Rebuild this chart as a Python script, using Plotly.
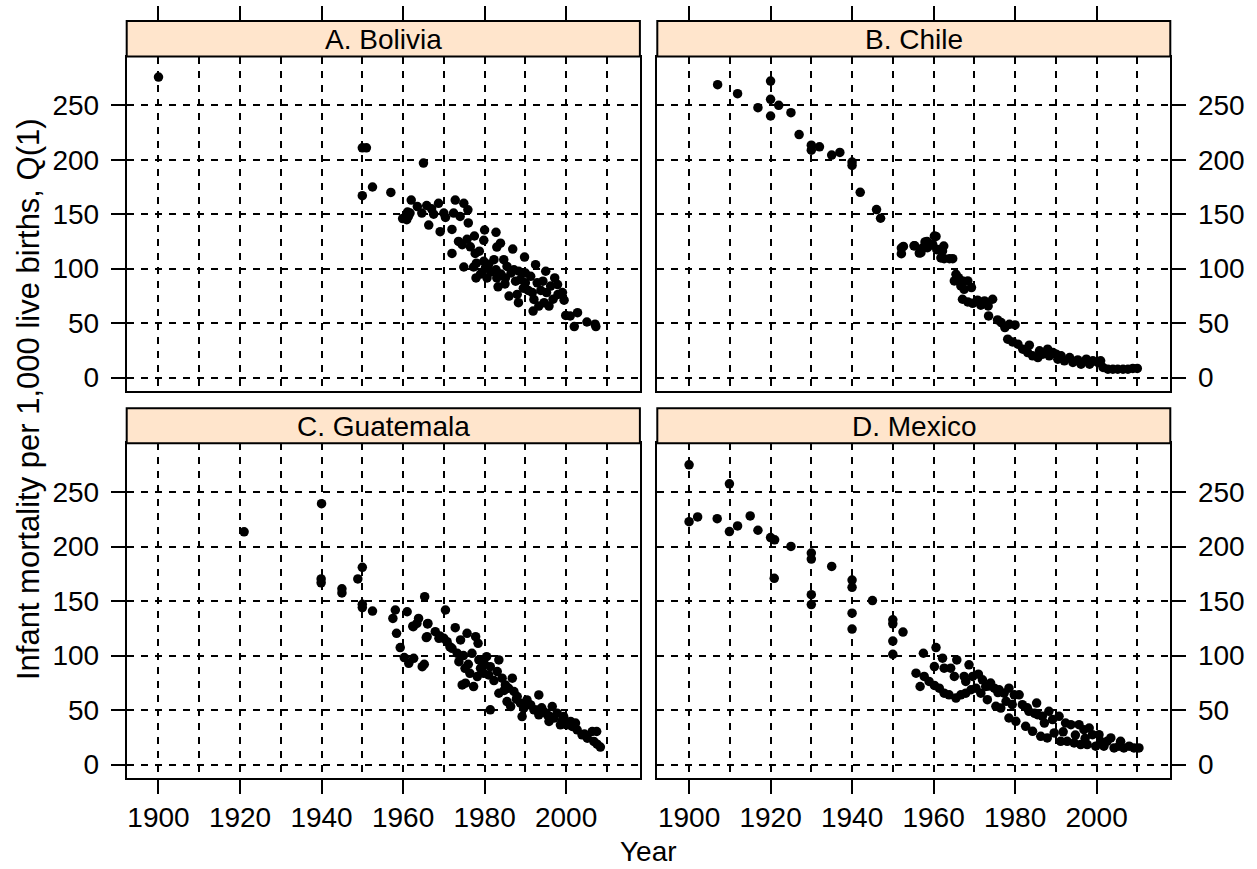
import plotly.graph_objects as go

# ---------------- data ----------------
bolivia_year = [1900, 1950, 1951, 1965, 1950, 1952.5, 1957, 1962, 1961.7, 1960.9, 1961.3, 1964.6, 1965.8,
                1967, 1968.7, 1970, 1970.4, 1966.3, 1969.1, 1972, 1972.8, 1974.9, 1975.9, 1976, 1972.4,
                1973.6, 1974.5, 1975.7, 1977.5, 1972, 1974.9, 1977.3, 1977.9, 1977.7, 1978.7, 1980,
                1979.8, 1979.8, 1980.2, 1980.6, 1982.8, 1983, 1983.9, 1982.3, 1982.8, 1983, 1983.3,
                1984.7, 1985.5, 1985.1, 1986, 1986.9, 1987.2, 1987.6, 1988, 1988.3, 1988.4, 1989.8,
                1990, 1990, 1991.3, 1991.7, 1992.1, 1992.5, 1992.9, 1993.3, 1994.3, 1995, 1995.2,
                1995.8, 1996.2, 1997.2, 1997.9, 1998, 1999.1, 1999.5, 1994.6, 1991.9, 1999.9, 2001,
                2002.8, 2002, 2005.1, 2007.3, 2007.1,
                1976.5, 1978, 1979, 1981, 1981.5, 1984, 1985, 1986.5, 1988.8, 1989.5, 1990.7, 1993.8,
                1996.8, 1974, 1967.5, 1963.5, 1959.9, 1961.1]
bolivia_q1 = [276, 211, 211, 197, 167, 175, 170, 163, 151, 145, 148, 151, 158,
              155, 160, 151, 147, 140, 134, 136, 163, 160, 154, 142, 151,
              125, 122, 127, 130, 114, 101.5, 101.5, 91.5, 114, 116, 135.5,
              126, 106.7, 100.6, 91.5, 133.4, 119.8, 123.4, 108.2, 99, 91.5, 83.3,
              108.2, 102, 91.5, 74.8, 118, 99, 88.5, 76.3, 68.7, 97.6, 110.6,
              96, 87, 93, 78, 71.7, 103.6, 87, 65.6, 88.5, 97.6, 78,
              65.6, 84, 91.5, 85.4, 76.3, 78, 71, 68.7, 61, 57, 56.5,
              59.6, 46.8, 51, 46.8, 49,
              120, 105, 95, 104, 97, 95, 86, 96, 90, 82, 80, 80,
              72, 148, 150, 157, 146, 152]

chile_year = [1907, 1911.9, 1920, 1920, 1920, 1916.9, 1922, 1925, 1927, 1930, 1930, 1932, 1935, 1937,
              1940, 1940, 1942, 1946, 1947, 1952.1, 1952.1, 1952.6, 1955.4, 1956.5, 1957.3, 1958.4,
              1959.4, 1960.6, 1960.8, 1961.8,
              1955.2, 1956.9, 1957.9, 1958.5, 1960.2, 1959.8, 1961, 1962.2, 1962.5, 1962.6, 1963.9,
              1964.7, 1965.5, 1965.1, 1966.1, 1967.1, 1967.5, 1966.7, 1968.4, 1969.3, 1967.1, 1968.4,
              1969.6, 1970.8, 1971.6, 1972.5, 1973.4, 1973.5, 1974.5, 1975.7, 1976.6, 1977.5, 1978.6,
              1980, 1978.2, 1979.4, 1980.7, 1981.9, 1983.5, 1983.1, 1984.3, 1985.6, 1986, 1986.8,
              1988, 1988.4, 1989.3, 1990.1, 1990.5, 1991.3, 1992.1, 1993.4, 1994.2, 1995.4, 1996.2,
              1997.5, 1998.3, 1999.1, 2000.3, 2001, 2001.6, 2002.8, 2004, 2005.2, 2006.5, 2007.7,
              2008.9, 2010]
chile_q1 = [269, 260.7, 272.3, 255.5, 240.2, 247.9, 250, 243.3, 223.2, 213.4, 208.8, 211.9, 204.3, 206.7,
            197.9, 194.8, 170.1, 154.3, 146.3, 118.9, 113.7, 120.4, 121, 114.3, 118.9, 125,
            122, 129.6, 117.4, 109.8,
            121, 114.7, 124.5, 119.3, 130, 122, 117.7, 116.2, 120.8, 109.2, 109.2,
            109.2, 94.8, 88.7, 91.7, 88.7, 81, 84.1, 88.7, 82.6, 71.9, 69.4,
            68.2, 71, 66.4, 70.3, 65.7, 56.6, 71.9, 52.9, 50.5, 45.9, 48.9,
            48.3, 35.2, 32.7, 30.6, 26, 29.7, 22.9, 19.9, 18.3, 24.5, 21.4,
            26, 19.9, 22.9, 21.4, 16.8, 19.9, 15.3, 18.3, 13.8, 16.2, 12.2,
            16.8, 12.2, 15.3, 13.8, 15.3, 9.2, 7.6, 7.6, 7.6, 7.6, 7.6,
            8.3, 8.3]

guatemala_year = [1921, 1940, 1939.9, 1939.9, 1945, 1945, 1950, 1948.9, 1950, 1950, 1952.5,
                  1965.3, 1958.1, 1957.5, 1961, 1958.4, 1959.3, 1960.3, 1961.4, 1962.6, 1964.7, 1965.2,
                  1962.5, 1963.4, 1963.8, 1966.1, 1965.9, 1967.9, 1968.8, 1970.4, 1970, 1970.8,
                  1972.8, 1972, 1973.3, 1974.1, 1975.7, 1974.5, 1975.3, 1977.3, 1976.9, 1977.8,
                  1978.4, 1973.7, 1975.2, 1976.4, 1978.2, 1978.6, 1979, 1979.8, 1980.5, 1981.4,
                  1981, 1981.4, 1983.5, 1983.5, 1983.1, 1984.3, 1985.1, 1985.9, 1986.8, 1985.5,
                  1986.4, 1987.2, 1988, 1988.8, 1989.2, 1989.6, 1990.4, 1991.3, 1992.1, 1993.3,
                  1993.3, 1994.5, 1995.4, 1995.8, 1996.6, 1997, 1997.8, 1998.6, 1999.4, 2000.2,
                  2001.1, 2002.3, 2002.7, 2003.9, 2005.2, 2006.4, 2007.5, 2006.8, 2007.6, 2008.4,
                  1966, 1965.7, 1962.4, 1969, 1971.5, 1974.8, 1976, 1980, 1982.3, 1984.8, 1987.8,
                  1990.9, 1992.8, 1994, 1996, 1999, 2001.5, 2004.5]
guatemala_q1 = [213.5, 239.4, 170.3, 166.7, 161.2, 157.5, 181, 170.3, 147, 144, 140.8,
                154, 141.8, 134.1, 140.2, 120.4, 107.3, 98.1, 92.9, 97.5, 89.8, 92,
                126.5, 129.5, 134.1, 129.5, 117.3, 121.9, 115.8, 141.8, 115.8, 112.7,
                125.6, 106.6, 102, 114.3, 120.4, 73, 74.6, 71.5, 102, 117.3,
                111.2, 94.4, 88.3, 83.7, 80.7, 96, 88.3, 83.7, 99, 89.8,
                82.2, 50.2, 96, 65.4, 85.3, 79.2, 73, 70, 79.2, 57.8,
                53.2, 67, 62.4, 56.3, 44, 51.7, 59.3, 54.7, 50.2, 63.9,
                45.6, 48.6, 45.6, 39.5, 53.2, 42.6, 47.1, 36.4, 44, 36.4,
                39.5, 38, 31.8, 27.3, 24.2, 30.3, 30.3, 21.2, 18.7, 16,
                129, 116.5, 127, 118, 108, 100, 92, 92, 77, 68, 60,
                55, 50, 52, 44, 40, 35, 28]

mexico_year = [1900, 1900, 1902.1, 1906.9, 1909.9, 1909.9, 1911.9, 1915, 1916.9, 1920, 1921, 1920.9,
               1925, 1930, 1930, 1930, 1930, 1935, 1940, 1940, 1940, 1940, 1945, 1950, 1950, 1950,
               1950, 1952.5,
               1957.5, 1960.6, 1962.2, 1960.2, 1962.6, 1955.7, 1956.7, 1957.7, 1958.9, 1960.2,
               1961.4, 1962.6, 1963.8, 1965.5, 1966.7, 1967.9, 1969.2, 1970.4, 1964.2, 1965.1,
               1965.7, 1967.5, 1967.9, 1968.7, 1969.6, 1971, 1972, 1971.6, 1972.8, 1973.2, 1974,
               1974.9, 1975.3, 1976.1, 1976.5, 1977.3, 1978.5, 1978.5, 1979.8, 1981, 1980.2,
               1981.8, 1982.6, 1983.4, 1984.3, 1985.3, 1985.5, 1986.3, 1986.7, 1987.9, 1988.3,
               1989.2, 1989.6, 1990.8, 1991.2, 1992.4, 1992.8, 1993.7, 1994.5, 1995.7, 1996.1,
               1996.9, 1997.7, 1998.2, 1999, 1999.8, 2000.6, 2001, 2001.8, 2002.6, 2003.5, 2004.3,
               2005.5, 2005.9, 2006.7, 2008, 2009.2, 2010.4,
               1973.5, 1975.8, 1977.8, 1979.3, 1983, 1984.8, 1987.2, 1991.8, 1994.8, 1997.2]
mexico_q1 = [275, 222.9, 227.2, 225.6, 257.6, 213.8, 219, 228.1, 215, 208.3, 206.2, 170.9,
             200.1, 194, 188.5, 155.9, 146.8, 181.8, 169.3, 162.6, 138.9, 124.3, 150.5, 132.8, 129.1, 113.3,
             101.1, 121.5,
             102.1, 107.3, 97.6, 89.9, 88.4, 83.8, 71.6, 80.8, 76.2, 72.6,
             70.1, 65.5, 64, 61, 64, 65.5, 68.6, 70.1, 88.4, 80.8,
             96, 80.8, 76.2, 91.5, 80.8, 82.9, 77.7, 65.5, 71.6, 59.5, 74.7,
             70.1, 53.4, 68.6, 51.8, 65.5, 70.1, 42.7, 64, 64, 39.6,
             54.9, 35.1, 48.8, 30.5, 56.4, 45.7, 25.9, 44.2, 24.4, 48.8,
             41.2, 29, 44.2, 21.3, 38.1, 21.3, 36.6, 19.8, 36.6, 18.3,
             32, 18.3, 33.5, 27.4, 16.8, 27.4, 21.3, 16.8, 21.3, 24.4, 15.2,
             16.8, 21.3, 15.2, 16.8, 15.2, 15.2,
             72, 66, 58, 55, 52, 47, 38, 30, 27, 24]

panel_titles = ["A. Bolivia", "B. Chile", "C. Guatemala", "D. Mexico"]
x_ticks = [1900, 1920, 1940, 1960, 1980, 2000]
x_grid = [1900, 1910, 1920, 1930, 1940, 1950, 1960, 1970, 1980, 1990, 2000, 2010]
y_ticks = [0, 50, 100, 150, 200, 250]

# ---------------- layout geometry (pixels) ----------------
W, H = 1257, 869
FONT = "Liberation Sans, Arial, Helvetica, sans-serif"
FS = 28
FS_YLAB = 31
LW = 2
XL = (126.7, 639.9)
XR = (657.3, 1170.3)
YT = (56.7, 391.7)
YB = (444.3, 779.6)
STRIP_T = (21.0, 56.7)
STRIP_B = (409.3, 444.3)
XRANGE = [1892.2, 2018.1]
YRANGE = [-12.2, 294.8]


def fx(px):
    return px / W


def fy(py):
    return 1 - py / H


fig = go.Figure()
series = [(bolivia_year, bolivia_q1), (chile_year, chile_q1),
          (guatemala_year, guatemala_q1), (mexico_year, mexico_q1)]
for i, (xs, ys) in enumerate(series):
    k = "" if i == 0 else str(i + 1)
    fig.add_trace(go.Scatter(x=xs, y=ys, mode="markers", xaxis="x" + k, yaxis="y" + k,
                             marker=dict(color="black", size=9.5), showlegend=False,
                             hoverinfo="x+y"))
# invisible traces for the top-tick axes
fig.add_trace(go.Scatter(x=[None], y=[None], xaxis="x5", yaxis="y", showlegend=False))
fig.add_trace(go.Scatter(x=[None], y=[None], xaxis="x6", yaxis="y2", showlegend=False))

grid = dict(gridcolor="black", gridwidth=1.8, griddash="7px,7px")
tickfont = dict(family=FONT, size=FS, color="black")


def xaxis(domain, anchor, labels):
    d = dict(domain=[fx(domain[0]), fx(domain[1])], anchor=anchor, range=XRANGE,
             tickmode="array", tickvals=x_ticks, ticktext=[str(v) for v in x_ticks],
             showgrid=True, **grid,
             minor=dict(tickmode="array", tickvals=x_grid, showgrid=True,
                        gridcolor="black", gridwidth=1.8, griddash="7px,7px", ticks=""),
             showline=True, linecolor="black", linewidth=LW, mirror=True,
             zeroline=False, tickfont=tickfont)
    if labels:
        d.update(ticks="outside", ticklen=14, tickwidth=LW, tickcolor="black", showticklabels=True)
    else:
        d.update(ticks="", showticklabels=False)
    return d


def yaxis(domain, anchor, side):
    return dict(domain=[fy(domain[1]), fy(domain[0])], anchor=anchor, range=YRANGE, side=side,
                tickmode="array", tickvals=y_ticks, ticktext=[str(v) for v in y_ticks],
                showgrid=True, **grid,
                showline=True, linecolor="black", linewidth=LW, mirror=True, zeroline=False,
                ticks="outside", ticklen=14, tickwidth=LW, tickcolor="black",
                ticklabelstandoff=6, tickfont=tickfont)


def top_axis(overlay):
    return dict(overlaying=overlay, anchor="free", position=fy(STRIP_T[0]), side="top",
                range=XRANGE, tickmode="array", tickvals=x_ticks, showticklabels=False,
                ticks="outside", ticklen=15, tickwidth=LW, tickcolor="black",
                showgrid=False, showline=False, zeroline=False)


layout = dict(
    width=W, height=H, margin=dict(l=0, r=0, t=0, b=0),
    paper_bgcolor="white", plot_bgcolor="white", showlegend=False,
    font=dict(family=FONT, size=FS, color="black"),
    xaxis=xaxis(XL, "y", False), yaxis=yaxis(YT, "x", "left"),
    xaxis2=xaxis(XR, "y2", False), yaxis2=yaxis(YT, "x2", "right"),
    xaxis3=xaxis(XL, "y3", True), yaxis3=yaxis(YB, "x3", "left"),
    xaxis4=xaxis(XR, "y4", True), yaxis4=yaxis(YB, "x4", "right"),
    xaxis5=top_axis("x"), xaxis6=top_axis("x2"),
)
fig.update_layout(**layout)

shapes = []
annotations = []
panels = [(XL, STRIP_T), (XR, STRIP_T), (XL, STRIP_B), (XR, STRIP_B)]
for title, (xd, sd) in zip(panel_titles, panels):
    shapes.append(dict(type="rect", xref="paper", yref="paper",
                       x0=fx(xd[0]), x1=fx(xd[1]), y0=fy(sd[1]), y1=fy(sd[0]),
                       fillcolor="#FFE5CC", line=dict(color="black", width=LW), layer="above"))
    annotations.append(dict(text=title, xref="paper", yref="paper",
                            x=fx((xd[0] + xd[1]) / 2), y=fy((sd[0] + sd[1]) / 2 + 1),
                            xanchor="center", yanchor="middle", showarrow=False,
                            font=dict(family=FONT, size=FS, color="black")))

annotations.append(dict(text="Infant mortality per 1,000 live births, Q(1)", xref="paper", yref="paper",
                        x=fx(28), y=fy(400), textangle=-90, showarrow=False,
                        xanchor="center", yanchor="middle",
                        font=dict(family=FONT, size=FS_YLAB, color="black")))
annotations.append(dict(text="Year", xref="paper", yref="paper",
                        x=fx((XL[0] + XR[1]) / 2), y=fy(853), showarrow=False,
                        xanchor="center", yanchor="middle",
                        font=dict(family=FONT, size=FS, color="black")))
fig.update_layout(shapes=shapes, annotations=annotations)

fig.write_html("out.html")
